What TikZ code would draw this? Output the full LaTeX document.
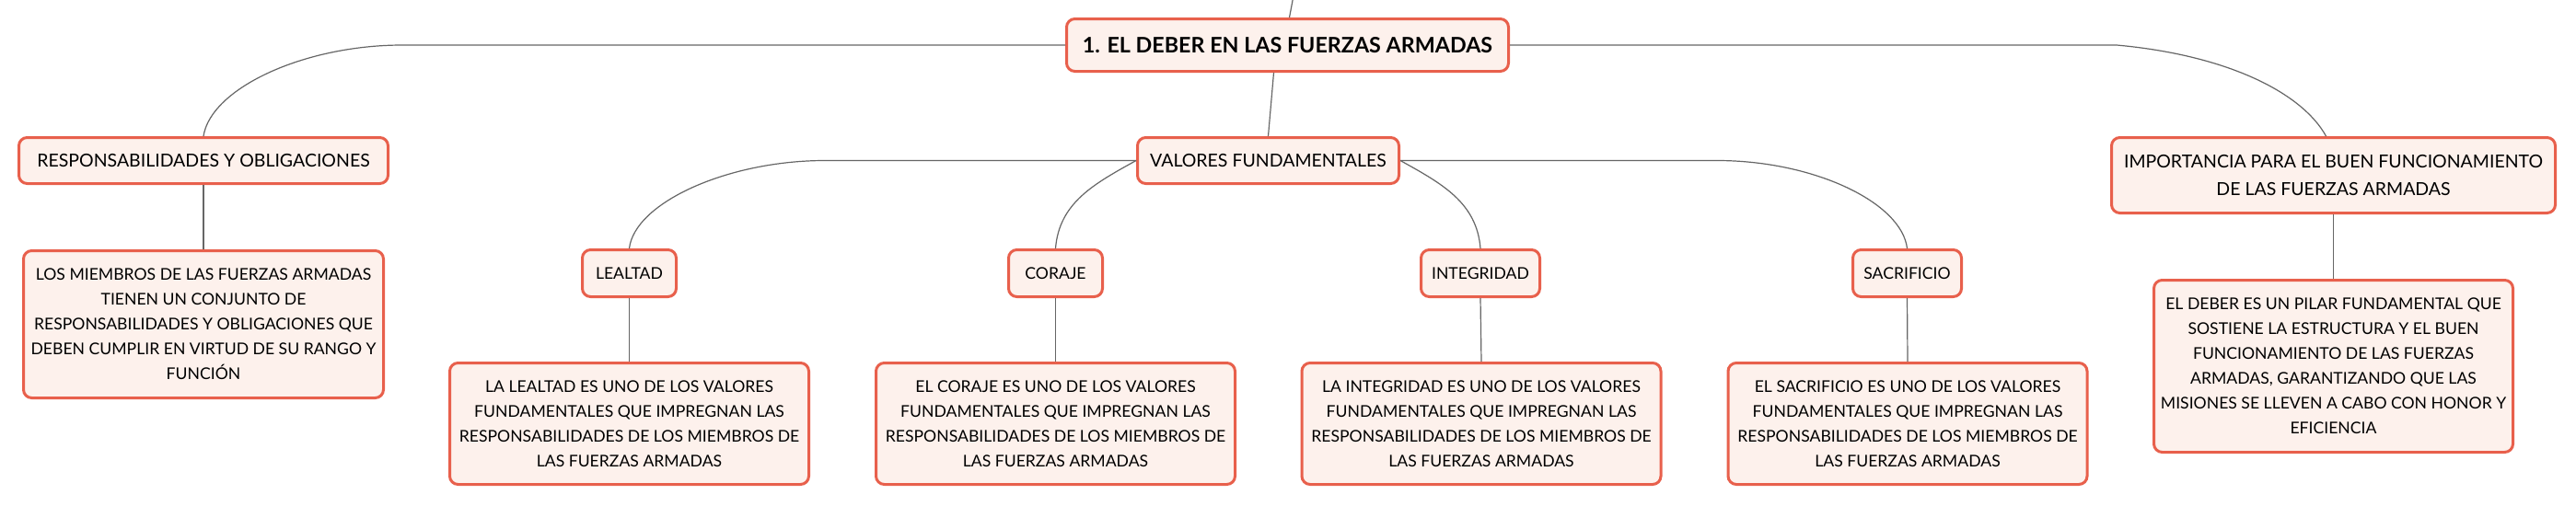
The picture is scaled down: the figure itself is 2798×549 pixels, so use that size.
\documentclass[tikz,border=0pt]{standalone}
\usepackage{fontspec}
\setmainfont{Lato}
\definecolor{boxline}{HTML}{E8604C}
\definecolor{boxfill}{HTML}{FDF1EC}
\definecolor{linkgray}{HTML}{666666}
\tikzset{
  box/.style={draw=boxline, fill=boxfill, line width=3pt, rounded corners=9pt, align=center, inner sep=0pt},
  mainbox/.style={box, font=\fontsize{23.3}{27}\selectfont\bfseries, minimum width=480pt, minimum height=57pt},
  topicbox/.style={box, font=\fontsize{19.5}{30}\selectfont, minimum height=50pt},
  valuebox/.style={box, font=\fontsize{17.6}{27}\selectfont, minimum height=51pt},
  notebox/.style={box, font=\fontsize{17.6}{27}\selectfont, minimum width=390pt},
  link/.style={draw=linkgray, line width=1.2pt}
}
\begin{document}
\begin{tikzpicture}[x=1pt,y=-1pt]
				\path [fill=white, use as bounding box] (0,0) rectangle (2798,549);
				\node [mainbox] (deber) at (1398.5,49) {1. EL DEBER EN LAS FUERZAS ARMADAS};
				\node [topicbox, minimum width=401pt] (resp) at (221,174.5) {RESPONSABILIDADES Y OBLIGACIONES};
				\node [topicbox, minimum width=284pt] (valores) at (1377.5,174.5) {VALORES FUNDAMENTALES};
				\node [topicbox, minimum width=482pt, minimum height=82pt] (importancia) at (2534.5,190.5) {IMPORTANCIA PARA EL BUEN FUNCIONAMIENTO\\DE LAS FUERZAS ARMADAS};
				\node [valuebox, minimum width=102pt] (lealtad) at (683.5,297) {LEALTAD};
				\node [valuebox, minimum width=102pt] (coraje) at (1146.5,297) {CORAJE};
				\node [valuebox, minimum width=129pt] (integridad) at (1608,297) {INTEGRIDAD};
				\node [valuebox, minimum width=118pt] (sacrificio) at (2071.5,297) {SACRIFICIO};
				\node [notebox, minimum width=391pt, minimum height=160pt] (respnota) at (221,352.5) {LOS MIEMBROS DE LAS FUERZAS ARMADAS\\TIENEN UN CONJUNTO DE\\RESPONSABILIDADES Y OBLIGACIONES QUE\\DEBEN CUMPLIR EN VIRTUD DE SU RANGO Y\\FUNCIÓN};
				\node [notebox, minimum height=132pt] (lealtadnota) at (683.5,460.5) {LA LEALTAD ES UNO DE LOS VALORES\\FUNDAMENTALES QUE IMPREGNAN LAS\\RESPONSABILIDADES DE LOS MIEMBROS DE\\LAS FUERZAS ARMADAS};
				\node [notebox, minimum height=132pt] (corajenota) at (1146.5,460.5) {EL CORAJE ES UNO DE LOS VALORES\\FUNDAMENTALES QUE IMPREGNAN LAS\\RESPONSABILIDADES DE LOS MIEMBROS DE\\LAS FUERZAS ARMADAS};
				\node [notebox, minimum height=132pt] (integridadnota) at (1609,460.5) {LA INTEGRIDAD ES UNO DE LOS VALORES\\FUNDAMENTALES QUE IMPREGNAN LAS\\RESPONSABILIDADES DE LOS MIEMBROS DE\\LAS FUERZAS ARMADAS};
				\node [notebox, minimum height=132pt] (sacrificionota) at (2072,460.5) {EL SACRIFICIO ES UNO DE LOS VALORES\\FUNDAMENTALES QUE IMPREGNAN LAS\\RESPONSABILIDADES DE LOS MIEMBROS DE\\LAS FUERZAS ARMADAS};
				\node [notebox, minimum height=187pt] (importancianota) at (2534.5,398) {EL DEBER ES UN PILAR FUNDAMENTAL QUE\\SOSTIENE LA ESTRUCTURA Y EL BUEN\\FUNCIONAMIENTO DE LAS FUERZAS\\ARMADAS, GARANTIZANDO QUE LAS\\MISIONES SE LLEVEN A CABO CON HONOR Y\\EFICIENCIA};
				\coordinate (arriba) at (1406,-10);
				\draw [link] ([xshift=2pt]deber.north) -- (arriba);
				\draw [link] ([xshift=-15pt]deber.south) -- (valores.north);
				\draw [link] (deber.west) -- ++(-720,0) .. controls +(-107,0) and +(8,-52) .. (resp.north);
				\draw [link] (deber.east) -- ++(659,0) .. controls +(121,11) and +(-26,-47) .. ([xshift=-8pt]importancia.north);
				\draw [link] (valores.west) -- ++(-338,0) .. controls +(-105,0) and +(6,-50) .. (lealtad.north);
				\draw [link] (valores.west) .. controls +(-45,25) and +(4,-50) .. (coraje.north);
				\draw [link] (valores.east) .. controls +(45,25) and +(-4,-50) .. (integridad.north);
				\draw [link] (valores.east) -- ++(344,0) .. controls +(105,0) and +(-6,-50) .. (sacrificio.north);
				\draw [link] (resp.south) -- (respnota.north);
				\draw [link] (lealtad.south) -- (lealtadnota.north);
				\draw [link] (coraje.south) -- (corajenota.north);
				\draw [link] (integridad.south) -- (integridadnota.north);
				\draw [link] (sacrificio.south) -- (sacrificionota.north);
				\draw [link] (importancia.south) -- (importancianota.north);
			\end{tikzpicture}
\end{document}
